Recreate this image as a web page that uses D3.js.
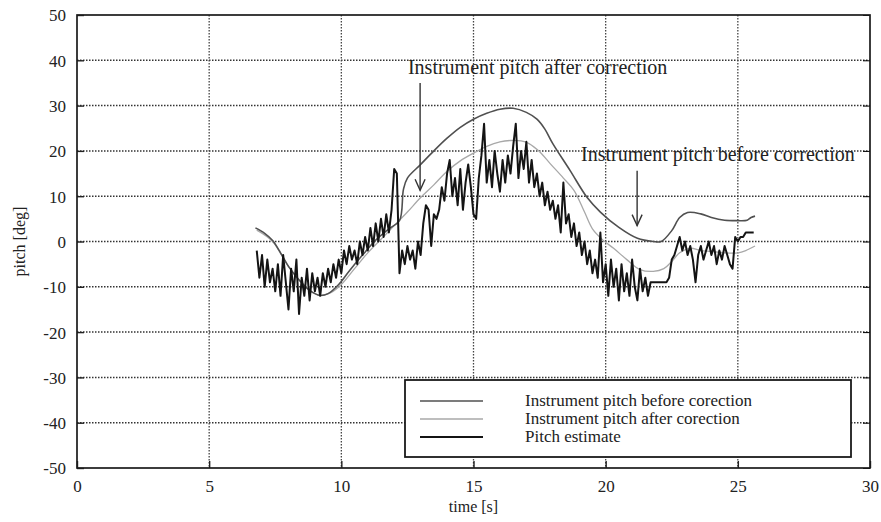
<!DOCTYPE html>
<html>
<head>
<meta charset="utf-8">
<script src="https://cdn.jsdelivr.net/npm/d3@7"></script>
<style>
	body { margin: 0; background: #fff; }
	text { font-family: 'Liberation Serif', 'DejaVu Serif', serif; fill: #222; }
</style>
</head>
<body>
<div id="chart"></div>
<script>
// tick values
const xTicks = [0, 5, 10, 15, 20, 25, 30];
const yTicks = [-50, -40, -30, -20, -10, 0, 10, 20, 30, 40, 50];

// instrument pitch before correction [time, deg]
const beforeCorr = [
	[6.75, 3.0], [7.1, 1.8], [7.4, 0.2], [7.7, -2.5], [8.0, -5.5], [8.4, -8.5], [8.8, -10.8],
	[9.2, -11.9], [9.5, -11.5], [9.9, -9.5], [10.3, -6.5], [10.8, -3], [11.3, 0.3], [11.8, 2.8],
	[12.2, 4.6], [12.35, 11.5], [12.5, 14], [13.0, 17], [13.5, 20], [14.0, 22.8], [14.5, 25.2],
	[15.0, 27], [15.5, 28.3], [16.0, 29.2], [16.5, 29.4], [17.0, 28.5], [17.4, 27], [17.7, 24.8],
	[18.0, 21.6], [18.65, 15.7], [19.3, 9.7], [19.8, 6.5], [20.5, 3.1], [21.2, 0.7], [21.8, 0],
	[22.1, 0], [22.5, 2.4], [22.8, 5.3], [23.1, 6.4], [23.6, 6.1], [24.0, 5.3], [24.5, 4.7],
	[25.0, 4.6], [25.35, 4.7], [25.5, 5.3], [25.65, 5.6]
];

// instrument pitch after correction [time, deg]
const afterCorr = [
	[6.8, 2.5], [7.4, 0], [8.0, -5.5], [8.8, -10.8], [9.2, -11.9], [9.6, -11.3], [10.0, -9.5],
	[10.5, -6], [11.0, -2.5], [11.5, 0.5], [12.0, 3.5], [12.5, 6.5], [13.0, 9.7], [13.5, 12.5],
	[14.0, 15.5], [14.5, 17.8], [15.0, 19.5], [15.5, 21], [16.0, 22], [16.4, 22.3], [16.8, 22.2],
	[17.1, 21.6], [17.5, 19.8], [17.9, 17.2], [18.4, 14], [18.8, 11.3], [19.2, 6.5], [19.5, 2.8],
	[19.9, 0.3], [20.3, -1.5], [20.8, -4], [21.3, -6.2], [21.8, -6.6], [22.2, -6], [22.5, -4.4],
	[22.8, -2.5], [23.2, -1.5], [23.6, -2], [24.0, -2.2], [24.5, -2.5], [25.0, -2.5], [25.3, -2],
	[25.65, -1]
];

// pitch estimate, sampled every 0.1 s from 6.8 s
const estStart = 6.8;
const estStep = 0.1;
const estimate = [
	-2, -8, -3, -10, -4, -9, -6, -11, -5, -12,
	-3, -9, -15, -6, -11, -4, -16, -8, -12, -6,
	-13, -7, -11, -8, -12, -7, -10, -6, -9, -5,
	-8, -4, -7, -2, -5, -1, -4, -2, -5, 0,
	-3, 1, -2, 3, -1, 4, 0, 5, 1, 6,
	2, 7, 16, 15, -7, -2, -5, -1, -4, -2,
	-6, 0, -3, 4, 8, 7, -1, 6, 5, 7,
	12, 9, 15, 18, 10, 14, 8, 16, 7, 13,
	17, 12, 6, 5, 14, 19, 26, 13, 18, 12,
	20, 15, 11, 18, 13, 19, 15, 21, 26, 14,
	20, 16, 22, 13, 18, 12, 15, 10, 13, 8,
	11, 7, 9, 5, 8, 2, 13, 4, 6, 1,
	4, -1, 2, -3, 0, -5, -2, -7, -4, -8,
	2, -9, -5, -12, -4, -10, -6, -13, -5, -11,
	-7, -12, -4, -10, -13, -6, -11, -8, -12, -9,
	-9, -9, -9, -9, -9, -9, -8, -4, -3, -1,
	1, -2, 0, -3, -1, -4, -9, -3, -1, -4,
	-2, 0, -3, -1, -5, -2, -4, -1, -3, -5,
	-6, 1, 0, 1, 1, 2, 2, 2, 2
];

const legendLabels = ['Instrument pitch before corection', 'Instrument pitch after corection', 'Pitch estimate'];

const width = 881;
const height = 522;
const margin = { top: 15, right: 11, bottom: 54, left: 77 };
const w = width - margin.left - margin.right;
const h = height - margin.top - margin.bottom;
const serif = "'Liberation Serif', 'DejaVu Serif', serif";

const colors = { before: '#505050', after: '#a8a8a8', est: '#141414' };

const svg = d3.select('#chart').append('svg')
	.attr('width', width)
	.attr('height', height);

const plot = svg.append('g')
	.attr('transform', `translate(${margin.left},${margin.top})`);

const xScale = d3.scaleLinear().domain([0, 30]).range([0, w]);
const yScale = d3.scaleLinear().domain([-50, 50]).range([h, 0]);

// dotted grid
plot.append('g')
	.selectAll('line')
	.data(yTicks.slice(1, -1))
	.join('line')
	.attr('x1', 0).attr('x2', w)
	.attr('y1', (d) => yScale(d)).attr('y2', (d) => yScale(d))
	.attr('stroke', '#333')
	.attr('stroke-width', 1.5)
	.attr('stroke-dasharray', '1.5,1.5');

plot.append('g')
	.selectAll('line')
	.data(xTicks.slice(1, -1))
	.join('line')
	.attr('x1', (d) => xScale(d)).attr('x2', (d) => xScale(d))
	.attr('y1', 0).attr('y2', h)
	.attr('stroke', '#444')
	.attr('stroke-width', 1.3)
	.attr('stroke-dasharray', '1.5,1.5');

// axes with inner ticks
const fmt = (d) => String(d);
const xAxis = d3.axisBottom(xScale).tickValues(xTicks).tickSize(-7).tickPadding(12).tickFormat(fmt);
const yAxis = d3.axisLeft(yScale).tickValues(yTicks).tickSize(-7).tickPadding(11).tickFormat(fmt);

const gx = plot.append('g')
	.attr('transform', `translate(0,${h})`)
	.call(xAxis);
const gy = plot.append('g').call(yAxis);

plot.append('g')
	.call(d3.axisRight(yScale).tickValues(yTicks).tickSize(-7).tickFormat(''))
	.attr('transform', `translate(${w},0)`);

[gx, gy].forEach((g) => {
	g.attr('font-family', serif).attr('font-size', 17);
	g.selectAll('.tick line').attr('stroke', '#222').attr('stroke-width', 1.4);
	g.selectAll('.tick text')
		.style('font-family', serif)
		.style('font-size', '17px')
		.attr('fill', '#2a2a2a');
});
gy.selectAll('.tick text').attr('dy', '0.35em');

plot.selectAll('.domain').remove();

// frame
plot.append('rect')
	.attr('width', w)
	.attr('height', h)
	.attr('fill', 'none')
	.attr('stroke', '#1a1a1a')
	.attr('stroke-width', 1.7);

// axis titles
svg.append('text')
	.attr('x', margin.left + w / 2)
	.attr('y', 512)
	.attr('text-anchor', 'middle')
	.style('font-size', '16px')
	.text('time [s]');

svg.append('text')
	.attr('transform', `translate(25,${margin.top + h / 2}) rotate(-90)`)
	.attr('text-anchor', 'middle')
	.style('font-size', '16px')
	.text('pitch [deg]');

// series
const smooth = d3.line()
	.x((d) => xScale(d[0]))
	.y((d) => yScale(d[1]))
	.curve(d3.curveCatmullRom);

plot.append('path')
	.datum(afterCorr)
	.attr('d', smooth)
	.attr('fill', 'none')
	.attr('stroke', colors.after)
	.attr('stroke-width', 1.3);

plot.append('path')
	.datum(beforeCorr)
	.attr('d', smooth)
	.attr('fill', 'none')
	.attr('stroke', colors.before)
	.attr('stroke-width', 1.6);

const estLine = d3.line()
	.x((d, i) => xScale(estStart + i * estStep))
	.y((d) => yScale(d));

plot.append('path')
	.datum(estimate)
	.attr('d', estLine)
	.attr('fill', 'none')
	.attr('stroke', colors.est)
	.attr('stroke-width', 2)
	.attr('stroke-linejoin', 'round');

// annotations with arrows
function annotate(label, tx, ty, ax, ay0, ay1) {
	plot.append('text')
		.attr('x', xScale(tx))
		.attr('y', yScale(ty))
		.style('font-size', '20px')
		.text(label);
	const x = xScale(ax);
	const y1 = yScale(ay1);
	plot.append('line')
		.attr('x1', x).attr('x2', x)
		.attr('y1', yScale(ay0)).attr('y2', y1)
		.attr('stroke', '#333')
		.attr('stroke-width', 1.4);
	plot.append('path')
		.attr('d', `M${x - 5},${y1 - 11}L${x},${y1}L${x + 5},${y1 - 11}`)
		.attr('fill', 'none')
		.attr('stroke', '#333')
		.attr('stroke-width', 1.4);
}

annotate('Instrument pitch after correction', 12.52, 37.0, 12.98, 35, 11.3);
annotate('Instrument pitch before correction', 19.07, 17.8, 21.19, 15.6, 3.5);

// legend
const legend = svg.append('g').attr('transform', 'translate(405,380)');
legend.append('rect')
	.attr('width', 446)
	.attr('height', 77)
	.attr('fill', '#fff')
	.attr('stroke', '#1a1a1a')
	.attr('stroke-width', 1.8);

const legendStyles = [
	{ color: colors.before, sw: 1.5 },
	{ color: colors.after, sw: 1.3 },
	{ color: colors.est, sw: 2 },
];

legendLabels.forEach((label, i) => {
	const y = 21 + i * 18;
	legend.append('line')
		.attr('x1', 15).attr('x2', 78)
		.attr('y1', y).attr('y2', y)
		.attr('stroke', legendStyles[i].color)
		.attr('stroke-width', legendStyles[i].sw);
	legend.append('text')
		.attr('x', 120)
		.attr('y', y + 5)
		.style('font-size', '17px')
		.text(label);
});
</script>
</body>
</html>
